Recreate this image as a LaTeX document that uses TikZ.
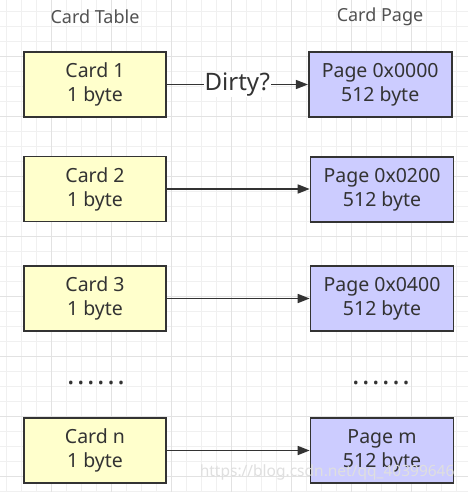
\documentclass[tikz,border=0pt]{standalone}
\usepackage{fontspec}
\setmainfont{Noto Sans}
\usetikzlibrary{arrows.meta}
\definecolor{cardfill}{HTML}{FFFFCC}
\definecolor{pagefill}{HTML}{CCCCFF}
\definecolor{edge}{HTML}{333333}
\definecolor{gridminor}{HTML}{F0F0F0}
\definecolor{gridmajor}{HTML}{E2E2E2}
\tikzset{
  box/.style={draw=edge, line width=1.6pt, minimum width=142pt, minimum height=65pt,
    align=center, inner sep=0pt, text=edge,
    font=\fontsize{19.5}{24}\selectfont},
  cardbox/.style={box, fill=cardfill},
  pagebox/.style={box, fill=pagefill, minimum width=143pt},
  conn/.style={draw=edge, line width=1.5pt, -{Triangle[length=12pt,width=9pt]}},
  header/.style={text=edge!85, font=\fontsize{18}{22}\selectfont},
  dots/.style={text=edge, anchor=base, font=\fontsize{28}{30}\selectfont\bfseries\addfontfeature{LetterSpace=9}},
}
\begin{document}
\begin{tikzpicture}[x=1pt,y=-1pt]
\useasboundingbox (0,0) rectangle (468,492);
\fill[white] (0,0) rectangle (468,492);
% grid
\foreach \i in {0,...,31} {
  \draw[gridminor, line width=0.8pt] (6.7+15*\i,0) -- (6.7+15*\i,492);
}
\foreach \i in {0,...,32} {
  \draw[gridminor, line width=0.8pt] (0,11.7+15*\i) -- (468,11.7+15*\i);
}
\foreach \i in {0,...,7} {
  \draw[gridmajor, line width=0.8pt] (51.7+60*\i-60,0) -- (51.7+60*\i-60,492);
}
\foreach \i in {0,...,8} {
  \draw[gridmajor, line width=0.8pt] (0,56.7+60*\i-60) -- (468,56.7+60*\i-60);
}
% headers
\node[header] (h1) at (95,17) {Card Table};
\node[header] (h2) at (380,17) {Card Page};
% boxes
\node[cardbox] (c1) at (95,84.5) {Card 1\\1 byte};
\node[cardbox] (c2) at (95,189) {Card 2\\1 byte};
\node[cardbox] (c3) at (95,298.5) {Card 3\\1 byte};
\node[cardbox] (cn) at (95,450.5) {Card n\\1 byte};
\node[pagebox] (p1) at (380.2,84.5) {Page 0x0000\\512 byte};
\node[pagebox] (p2) at (382,189.5) {Page 0x0200\\512 byte};
\node[pagebox] (p3) at (382,298.5) {Page 0x0400\\512 byte};
\node[pagebox] (pm) at (382,450.5) {Page m\\512 byte};
% dots
\node[dots] (d1) at (96,384) {......};
\node[dots] (d2) at (381,384) {......};
% connectors
\draw[conn] (c1.east) -- node[fill=white, inner sep=1pt, text=edge, font=\fontsize{24}{28}\selectfont] (lbl) {Dirty?} (p1.west);
\draw[conn] (c2.east) -- (c2.east -| p2.west);
\draw[conn] (c3.east) -- (c3.east -| p3.west);
\draw[conn] (cn.east) -- (cn.east -| pm.west);
% watermark
\node[text=gray!25, font=\fontsize{15.5}{18}\selectfont, anchor=east] (wm) at (458,472) {https://blog.csdn.net/qq\_40399646};
\end{tikzpicture}
\end{document}
